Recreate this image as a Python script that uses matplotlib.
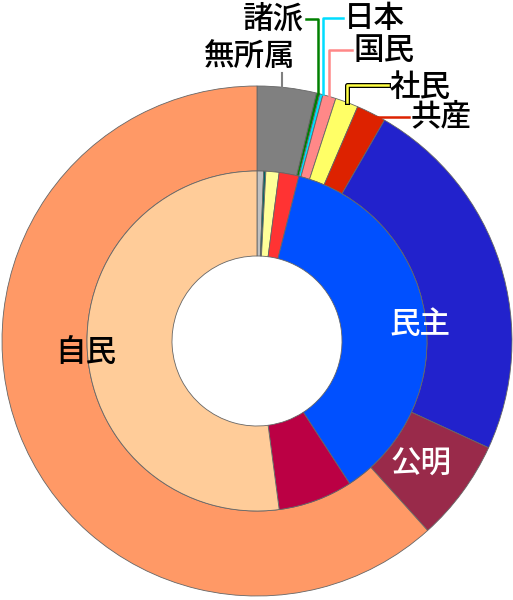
import matplotlib
matplotlib.use("Agg")
import matplotlib.pyplot as plt
import matplotlib.patheffects as pe
import numpy as np

plt.rcParams['font.family'] = ['Noto Sans CJK JP', 'DejaVu Sans']

# outer ring: 2005 result (seats, 480 total)
outer_names = ["無所属", "諸派", "日本", "国民", "社民", "共産", "民主", "公明", "自民"]
outer_seats = [18, 1, 1, 4, 7, 9, 113, 31, 296]
outer_colors = ["#808080", "#008000", "#00e0ff", "#ff8888", "#ffff66",
                "#dd2200", "#2222cc", "#992a4a", "#ff9966"]

# inner ring: previous composition
inner_seats = [3, 1, 6, 9, 177, 34, 250]
inner_colors = ["#c0c0c0", "#006666", "#ffff99", "#ff3333",
                "#0050ff", "#bb0044", "#ffcc99"]

W, H = 513, 600
CX, CY, R = 257, 341, 255


def px(x, y):
    return (x - CX) / R, (CY - y) / R


fig = plt.figure(figsize=(W / 100, H / 100), dpi=100)
ax = fig.add_axes([0, 0, 1, 1])

wedge_kw = dict(edgecolor="#666666", linewidth=0.6)
ax.pie(outer_seats, radius=1.0, colors=outer_colors, startangle=90,
       counterclock=False, wedgeprops=dict(width=1 / 3, **wedge_kw))
ax.pie(inner_seats, radius=2 / 3, colors=inner_colors, startangle=90,
       counterclock=False, wedgeprops=dict(width=1 / 3, **wedge_kw))

ax.set_xlim(-CX / R, (W - CX) / R)
ax.set_ylim(-(H - CY) / R, CY / R)
ax.set_aspect("equal")
ax.axis("off")

# mid angle (clockwise from top) of each outer wedge
cum = np.cumsum(outer_seats)
total = cum[-1]
mid = (cum - np.array(outer_seats) / 2) / total * 2 * np.pi


def anchor(i, r=1.0):
    return r * np.sin(mid[i]), r * np.cos(mid[i])


fs = 22
tkw = dict(fontsize=fs, fontweight="medium")

# big labels
ax.text(*px(86, 352), "自民", ha="center", va="center", color="black", **tkw)
ax.text(*px(420, 325), "民主", ha="center", va="center", color="white", **tkw)
ax.text(*px(421, 464), "公明", ha="center", va="center", color="white", **tkw)

# 無所属
x0, y0 = anchor(0)
ly = px(0, 73)[1]
ax.plot([x0 - 0.02, x0 - 0.02], [y0, ly], color="#808080", lw=1.5)
ax.text(*px(250, 57), "無所属", ha="center", va="center", **tkw)

# 諸派 (green)
x0, y0 = anchor(1)
ly = px(0, 19)[1]
lx = px(306, 0)[0]
ax.plot([x0, x0, lx], [y0, ly, ly], color="#008000", lw=1.8)
ax.text(lx - 0.008, ly, "諸派", ha="right", va="center", **tkw)

# 日本 (cyan)
x0, y0 = anchor(2)
ly = px(0, 18)[1]
lx = px(343, 0)[0]
ax.plot([x0 + 0.005, x0 + 0.005, lx], [y0, ly, ly], color="#00ddff", lw=1.8)
ax.text(lx + 0.005, ly, "日本", ha="left", va="center", **tkw)

# 国民 (pink)
x0, y0 = anchor(3)
ly = px(0, 50)[1]
lx = px(352, 0)[0]
ax.plot([x0, x0, lx], [y0, ly, ly], color="#ff8888", lw=1.8)
ax.text(lx + 0.005, ly, "国民", ha="left", va="center", **tkw)

# 社民 (yellow with black outline)
x0, y0 = anchor(4)
ly = px(0, 85)[1]
lx = px(388, 0)[0]
ax.plot([x0, x0, lx], [y0, ly, ly], color="#ffff44", lw=1.8,
        path_effects=[pe.Stroke(linewidth=3.6, foreground="black"), pe.Normal()])
ax.text(lx + 0.005, ly - 0.008, "社民", ha="left", va="center", **tkw)

# 共産 (red)
x0, y0 = anchor(5)
ly = px(0, 117)[1]
lx = px(409, 0)[0]
ax.plot([px(376, 0)[0], lx], [ly, ly], color="#dd2200", lw=1.8)
ax.text(lx + 0.005, ly, "共産", ha="left", va="center", **tkw)

fig.savefig("out.png", dpi=100)
